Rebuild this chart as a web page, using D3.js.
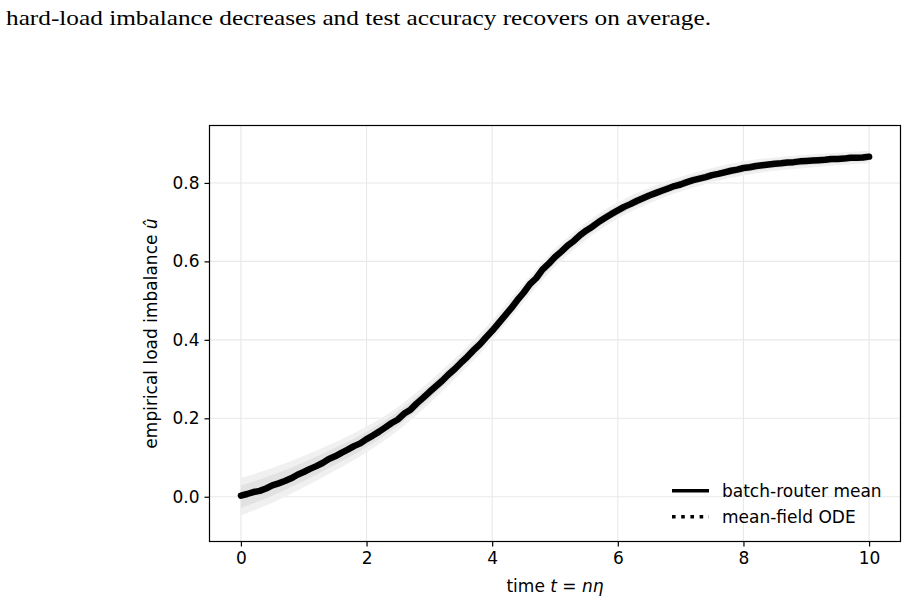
<!DOCTYPE html>
<html>
<head>
<meta charset="utf-8">
<script src="https://cdn.jsdelivr.net/npm/d3@7"></script>
<style>
  body { margin: 0; background: #fff; }
  svg text { font-family: "DejaVu Sans", sans-serif; fill: #000; }
  .caption { font-family: "Liberation Serif", serif; }
</style>
</head>
<body>
<div id="graph"></div>
<script>
const tMean = d3.range(0, 101).map(i => i / 10);
const meanVals = [
  0.003, 0.007, 0.012, 0.015, 0.021, 0.029, 0.034, 0.040, 0.047, 0.056,
  0.063, 0.071, 0.078, 0.086, 0.096, 0.103, 0.112, 0.120, 0.129, 0.136,
  0.147, 0.156, 0.166, 0.177, 0.188, 0.197, 0.212, 0.222, 0.238, 0.252,
  0.267, 0.281, 0.295, 0.311, 0.325, 0.341, 0.356, 0.373, 0.388, 0.406,
  0.423, 0.442, 0.461, 0.480, 0.501, 0.520, 0.542, 0.557, 0.579, 0.594,
  0.611, 0.625, 0.640, 0.652, 0.667, 0.679, 0.689, 0.701, 0.711, 0.721,
  0.730, 0.739, 0.746, 0.754, 0.761, 0.768, 0.774, 0.780, 0.786, 0.792,
  0.796, 0.802, 0.807, 0.811, 0.815, 0.820, 0.823, 0.827, 0.831, 0.834,
  0.838, 0.840, 0.843, 0.845, 0.847, 0.849, 0.850, 0.852, 0.853, 0.855,
  0.856, 0.857, 0.858, 0.859, 0.861, 0.861, 0.862, 0.864, 0.864, 0.865,
  0.867
];
// mean-field ODE and spread band, every 0.5 in t
const tOde = d3.range(0, 21).map(i => i / 2);
const odeVals = [0.000, 0.029, 0.064, 0.103, 0.146, 0.199, 0.266, 0.341, 0.424, 0.520,
  0.609, 0.678, 0.730, 0.768, 0.797, 0.820, 0.837, 0.848, 0.855, 0.861, 0.866];
const bandHalf = [0.048, 0.044, 0.040, 0.036, 0.033, 0.030, 0.028, 0.026, 0.025, 0.024,
  0.023, 0.022, 0.021, 0.020, 0.019, 0.018, 0.018, 0.017, 0.017, 0.016, 0.016];
const xTicks = [0, 2, 4, 6, 8, 10];
const yTicks = [0.0, 0.2, 0.4, 0.6, 0.8];

const width = 908, height = 601;
const padL = 209.5, padR = 900.5, padT = 125.5, padB = 541.5;

const svg = d3.select("#graph").append("svg").attr("width", width).attr("height", height);

svg.append("text").attr("class", "caption")
  .attr("x", 6).attr("y", 25).attr("font-size", 22)
  .attr("textLength", 705).attr("lengthAdjust", "spacingAndGlyphs")
  .text("hard-load imbalance decreases and test accuracy recovers on average.");

const x = d3.scaleLinear().domain([-0.5, 10.5]).range([padL, padR]);
const y = d3.scaleLinear().domain([-0.1141, 0.9464]).range([padB, padT]);

// grid
svg.append("g").selectAll("line").data(xTicks).enter().append("line")
  .attr("x1", d => x(d)).attr("x2", d => x(d)).attr("y1", padT).attr("y2", padB)
  .attr("stroke", "#e8e8e8").attr("stroke-width", 1.1);
svg.append("g").selectAll("line").data(yTicks).enter().append("line")
  .attr("y1", d => y(d)).attr("y2", d => y(d)).attr("x1", padL).attr("x2", padR)
  .attr("stroke", "#e8e8e8").attr("stroke-width", 1.1);

// spread band
const band = tOde.map((t, i) => ({t: t, v: odeVals[i], h: bandHalf[i]}));
const outer = d3.area().curve(d3.curveMonotoneX)
  .x(d => x(d.t)).y0(d => y(d.v - d.h)).y1(d => y(d.v + d.h));
const inner = d3.area().curve(d3.curveMonotoneX)
  .x(d => x(d.t)).y0(d => y(d.v - d.h * 0.6)).y1(d => y(d.v + d.h * 0.6));
svg.append("path").datum(band).attr("d", outer).attr("fill", "#f0f0f0");
svg.append("path").datum(band).attr("d", inner).attr("fill", "#e2e2e2");

// ODE (dotted) underneath the mean
const odeLine = d3.line().curve(d3.curveMonotoneX).x(d => x(d.t)).y(d => y(d.v));
svg.append("path").datum(band).attr("d", odeLine).attr("fill", "none")
  .attr("stroke", "#000").attr("stroke-width", 3.6).attr("stroke-dasharray", "3.6,5.6");

// batch-router mean
const meanData = tMean.map((t, i) => ({t: t, v: meanVals[i]}));
svg.append("path").datum(meanData)
  .attr("d", d3.line().x(d => x(d.t)).y(d => y(d.v)))
  .attr("fill", "none").attr("stroke", "#000").attr("stroke-width", 6.5)
  .attr("stroke-linejoin", "round").attr("stroke-linecap", "round");

// axes
const xAxis = d3.axisBottom(x).tickValues(xTicks).tickFormat(d3.format("d")).tickSize(5).tickPadding(5);
const yAxis = d3.axisLeft(y).tickValues(yTicks).tickFormat(d3.format(".1f")).tickSize(5).tickPadding(5);
const gx = svg.append("g").attr("transform", "translate(0," + padB + ")").call(xAxis);
const gy = svg.append("g").attr("transform", "translate(" + padL + ",0)").call(yAxis);
[gx, gy].forEach(g => {
  g.select(".domain").remove();
  g.selectAll(".tick line").attr("stroke", "#000").attr("stroke-width", 1.2);
  g.selectAll(".tick text").attr("font-size", 17).attr("font-family", "DejaVu Sans");
});

svg.append("rect").attr("x", padL).attr("y", padT)
  .attr("width", padR - padL).attr("height", padB - padT)
  .attr("fill", "none").attr("stroke", "#000").attr("stroke-width", 1.2);

// axis labels
const xl = svg.append("text").attr("x", (padL + padR) / 2).attr("y", 592)
  .attr("text-anchor", "middle").attr("font-size", 17);
xl.append("tspan").text("time ");
xl.append("tspan").attr("font-style", "italic").text("t");
xl.append("tspan").text(" = ");
xl.append("tspan").attr("font-style", "italic").text("nη");

const yl = svg.append("text").attr("transform", "translate(157," + (padT + padB) / 2 + ") rotate(-90)")
  .attr("text-anchor", "middle").attr("font-size", 17);
yl.append("tspan").text("empirical load imbalance ");
yl.append("tspan").attr("font-style", "italic").text("û");

// legend
const legend = [
  {label: "batch-router mean", dash: null},
  {label: "mean-field ODE", dash: "3.6,5.6"}
];
const lg = svg.append("g");
legend.forEach((d, i) => {
  const ly = 490.7 + i * 26;
  lg.append("line").attr("x1", 672).attr("x2", 709).attr("y1", ly).attr("y2", ly)
    .attr("stroke", "#000").attr("stroke-width", 3.6)
    .attr("stroke-dasharray", d.dash);
  lg.append("text").attr("x", 722).attr("y", ly + 6).attr("font-size", 17).text(d.label);
});
</script>
</body>
</html>
